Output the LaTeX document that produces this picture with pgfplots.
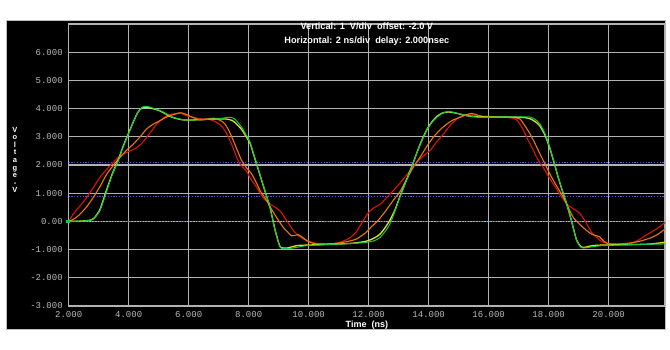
\documentclass[border=0pt]{standalone}
\usepackage{fontspec}
\setmainfont{Liberation Sans}
\newfontfamily\monofont{Liberation Mono}
\usepackage{pgfplots}
\pgfplotsset{compat=1.18}
\definecolor{gridc}{RGB}{178,178,178}
\definecolor{tickc}{RGB}{185,185,185}
\definecolor{cred}{RGB}{225,15,10}
\definecolor{corange}{RGB}{235,120,0}
\definecolor{cyellow}{RGB}{215,230,30}
\definecolor{cgreen}{RGB}{20,200,70}
\definecolor{dotblue}{RGB}{85,85,210}
\definecolor{dotgreen}{RGB}{0,165,0}
\begin{document}
\begin{tikzpicture}
\fill[white] (-68.7pt,-44pt) rectangle (601.3pt,306pt);
\fill[black] (-62.7pt,-23pt) rectangle (596.3pt,286pt);
\draw[gray!50, line width=0.6pt] (-62.7pt,-23pt) rectangle (596.3pt,286pt);
\begin{axis}[
  scale only axis, width=596.3pt, height=282pt,
  xmin=2, xmax=21.877, ymin=-3, ymax=7,
  xtick={2,4,...,20}, ytick={-3,-2,...,6},
  xticklabels={2.000,4.000,6.000,8.000,10.000,12.000,14.000,16.000,18.000,20.000},
  yticklabels={-3.000,-2.000,-1.000,0.00,1.000,2.000,3.000,4.000,5.000,6.000},
  tick label style={font=\monofont\fontsize{9}{9}\selectfont, text=tickc},
  xticklabel style={yshift=-1.5pt},
  yticklabel style={xshift=-2.5pt},
  major tick length=0pt,
  grid=major, grid style={gridc, line width=1.1pt},
  axis line style={gridc, line width=1.1pt},
  xlabel={Time\ \ (ns)},
  xlabel style={at={(axis description cs:0.5,0)}, anchor=center, yshift=-19pt,
    font=\bfseries\fontsize{9}{9}\selectfont, text=white},
  clip=false,
]
\addplot[dotblue, line width=1pt, dash pattern=on 1.2pt off 1.6pt] coordinates {(2,2.08) (21.877,2.08)};
\addplot[dotblue, line width=1pt, dash pattern=on 1.2pt off 1.6pt] coordinates {(2,0.89) (21.877,0.89)};
\addplot[dotgreen, line width=1pt, dash pattern=on 1.2pt off 1.6pt] coordinates {(2,0) (21.877,0)};
\addplot[only marks, mark=square*, mark size=1.3pt, cgreen] coordinates {(1.97,0)};
% red
\addplot[cred, line width=1.1pt, smooth, tension=0.4] coordinates {
(2.00,0.00) (2.15,0.26) (2.38,0.55) (2.60,0.85) (2.82,1.20) (3.04,1.56) (3.27,1.85) (3.49,2.09) (3.65,2.27) (3.82,2.39) (4.05,2.50) (4.27,2.62) (4.45,2.78) (4.60,2.98) (4.77,3.22) (4.93,3.45) (5.10,3.62) (5.27,3.75) (5.45,3.81) (5.60,3.83) (5.71,3.85) (5.93,3.75) (6.15,3.69) (6.38,3.64) (6.60,3.63) (6.80,3.58) (6.93,3.51) (7.08,3.40) (7.21,3.22) (7.38,2.86) (7.50,2.55) (7.60,2.27) (7.70,2.05) (7.82,1.91) (7.93,1.78) (8.04,1.56) (8.15,1.38) (8.27,1.21) (8.38,1.00) (8.50,0.82) (8.60,0.72) (8.71,0.62) (8.88,0.50) (9.04,0.38) (9.15,0.22) (9.27,0.02) (9.38,-0.15) (9.49,-0.33) (9.65,-0.50) (9.82,-0.62) (10.05,-0.72) (10.27,-0.78) (10.82,-0.80) (11.10,-0.72) (11.38,-0.58) (11.60,-0.35) (11.80,0.00) (12.00,0.32) (12.20,0.50) (12.40,0.62) (12.60,0.85) (12.82,1.09) (13.04,1.35) (13.15,1.50) (13.38,1.80) (13.60,2.09) (13.80,2.30) (14.04,2.51) (14.25,2.80) (14.49,3.10) (14.70,3.38) (14.93,3.63) (15.10,3.74) (15.27,3.78) (15.50,3.77) (15.71,3.74) (16.20,3.71) (16.60,3.69) (16.80,3.66) (16.93,3.60) (17.04,3.45) (17.15,3.25) (17.27,2.98) (17.45,2.60) (17.60,2.27) (17.72,2.05) (17.82,1.91) (17.98,1.62) (18.15,1.33) (18.38,0.95) (18.60,0.62) (18.75,0.50) (18.93,0.38) (19.10,0.20) (19.27,-0.09) (19.43,-0.39) (19.60,-0.57) (19.77,-0.72) (20.00,-0.78) (20.65,-0.80) (21.00,-0.66) (21.21,-0.51) (21.55,-0.30) (21.88,-0.04)};
% orange
\addplot[corange, line width=1.1pt, smooth, tension=0.4] coordinates {
(2.00,0.00) (2.20,0.10) (2.38,0.26) (2.60,0.52) (2.82,0.85) (3.05,1.25) (3.27,1.68) (3.50,2.00) (3.71,2.27) (3.93,2.52) (4.15,2.74) (4.38,3.00) (4.60,3.28) (4.82,3.45) (5.04,3.57) (5.30,3.72) (5.60,3.82) (5.75,3.85) (5.95,3.78) (6.15,3.68) (6.38,3.60) (6.60,3.62) (6.82,3.66) (6.95,3.63) (7.10,3.55) (7.21,3.45) (7.35,3.20) (7.49,2.86) (7.63,2.50) (7.77,2.15) (7.93,1.90) (8.10,1.68) (8.25,1.38) (8.38,1.09) (8.50,0.90) (8.60,0.73) (8.75,0.45) (8.93,0.14) (9.15,-0.21) (9.30,-0.38) (9.43,-0.51) (9.55,-0.49) (9.65,-0.47) (9.80,-0.57) (9.93,-0.68) (10.10,-0.76) (10.27,-0.80) (10.60,-0.80) (11.04,-0.76) (11.35,-0.70) (11.60,-0.62) (11.90,-0.40) (12.10,-0.18) (12.30,0.02) (12.55,0.35) (12.82,0.75) (13.04,1.05) (13.27,1.50) (13.50,1.95) (13.71,2.27) (13.93,2.65) (14.15,2.98) (14.38,3.25) (14.60,3.45) (14.82,3.60) (15.04,3.69) (15.25,3.78) (15.43,3.83) (15.60,3.78) (15.82,3.71) (16.30,3.70) (16.80,3.69) (17.04,3.63) (17.20,3.40) (17.38,3.10) (17.55,2.75) (17.71,2.39) (17.88,2.03) (18.04,1.68) (18.25,1.28) (18.49,0.85) (18.65,0.50) (18.82,0.14) (19.05,-0.12) (19.27,-0.33) (19.43,-0.45) (19.60,-0.51) (19.70,-0.55) (19.82,-0.68) (19.99,-0.80) (20.40,-0.80) (20.88,-0.74) (21.15,-0.67) (21.43,-0.57) (21.65,-0.45) (21.88,-0.27)};
% yellow
\addplot[cyellow, line width=1.3pt, smooth, tension=0.4] coordinates {
(2.00,0.00) (2.40,0.01) (2.70,0.04) (2.85,0.12) (3.04,0.42) (3.25,1.08) (3.45,1.68) (3.65,2.18) (3.82,2.68) (3.99,3.12) (4.15,3.52) (4.30,3.86) (4.45,4.03) (4.60,4.05) (4.80,4.00) (5.04,3.92) (5.25,3.80) (5.48,3.68) (5.81,3.60) (6.20,3.60) (6.60,3.62) (7.00,3.63) (7.25,3.63) (7.45,3.58) (7.60,3.45) (7.77,3.25) (7.92,3.00) (8.04,2.78) (8.15,2.42) (8.27,2.00) (8.40,1.56) (8.54,1.08) (8.71,0.50) (8.88,-0.30) (9.04,-0.88) (9.15,-0.94) (9.30,-0.94) (9.60,-0.86) (9.93,-0.84) (10.50,-0.82) (11.04,-0.80) (11.50,-0.77) (11.93,-0.70) (12.20,-0.58) (12.38,-0.45) (12.55,-0.22) (12.71,0.05) (12.88,0.42) (13.04,0.88) (13.27,1.50) (13.49,2.10) (13.70,2.70) (13.93,3.24) (14.10,3.52) (14.27,3.72) (14.45,3.84) (14.65,3.88) (14.90,3.84) (15.27,3.75) (15.71,3.70) (16.20,3.70) (16.80,3.70) (17.20,3.68) (17.38,3.64) (17.55,3.54) (17.71,3.38) (17.88,3.05) (18.04,2.58) (18.18,2.08) (18.32,1.55) (18.46,1.07) (18.60,0.62) (18.77,-0.02) (18.93,-0.66) (19.08,-0.90) (19.20,-0.92) (19.45,-0.86) (19.77,-0.84) (20.30,-0.83) (20.90,-0.82) (21.40,-0.80) (21.88,-0.74)};
% green
\addplot[cgreen, line width=1.0pt, smooth, tension=0.4] coordinates {
(2.00,0.00) (2.40,0.01) (2.65,0.03) (2.82,0.08) (3.04,0.38) (3.27,1.09) (3.45,1.65) (3.65,2.15) (3.82,2.65) (3.99,3.10) (4.15,3.50) (4.30,3.85) (4.45,4.05) (4.60,4.08) (4.80,4.02) (5.04,3.93) (5.25,3.82) (5.48,3.69) (5.81,3.61) (6.20,3.60) (6.60,3.62) (7.00,3.64) (7.25,3.68) (7.40,3.69) (7.55,3.62) (7.77,3.33) (7.92,3.05) (8.04,2.82) (8.15,2.45) (8.27,2.03) (8.40,1.58) (8.54,1.09) (8.71,0.50) (8.88,-0.33) (9.04,-0.90) (9.15,-0.96) (9.30,-0.97) (9.60,-0.92) (9.93,-0.86) (10.50,-0.83) (11.04,-0.80) (11.50,-0.78) (11.93,-0.74) (12.20,-0.68) (12.38,-0.57) (12.55,-0.35) (12.71,-0.09) (12.88,0.38) (13.04,0.85) (13.27,1.48) (13.49,2.09) (13.70,2.68) (13.93,3.22) (14.10,3.50) (14.27,3.69) (14.45,3.83) (14.65,3.90) (14.90,3.85) (15.27,3.75) (15.71,3.69) (16.20,3.70) (16.80,3.71) (17.20,3.71) (17.38,3.70) (17.55,3.62) (17.71,3.45) (17.88,3.10) (18.04,2.62) (18.18,2.10) (18.32,1.56) (18.46,1.08) (18.60,0.62) (18.77,-0.02) (18.93,-0.68) (19.08,-0.92) (19.20,-0.94) (19.45,-0.90) (19.77,-0.86) (20.30,-0.84) (20.90,-0.82) (21.40,-0.81) (21.88,-0.80)};
\node[text=white, font=\bfseries\fontsize{9.2}{9.2}\selectfont, anchor=center] at (axis description cs:0.5,0.992) {Vertical: 1\ \ V/div\ \ offset: -2.0 V};
\node[text=white, font=\bfseries\fontsize{9.2}{9.2}\selectfont, anchor=center] at (axis description cs:0.5,0.941) {Horizontal: 2 ns/div\ \ delay: 2.000nsec};
\end{axis}
\node[text=white, font=\bfseries\fontsize{7.5}{7.6}\selectfont, align=center, inner sep=0pt] at (-53.7pt,146pt) {V\\o\\l\\t\\a\\g\\e\\-\\V};
\end{tikzpicture}
\end{document}
